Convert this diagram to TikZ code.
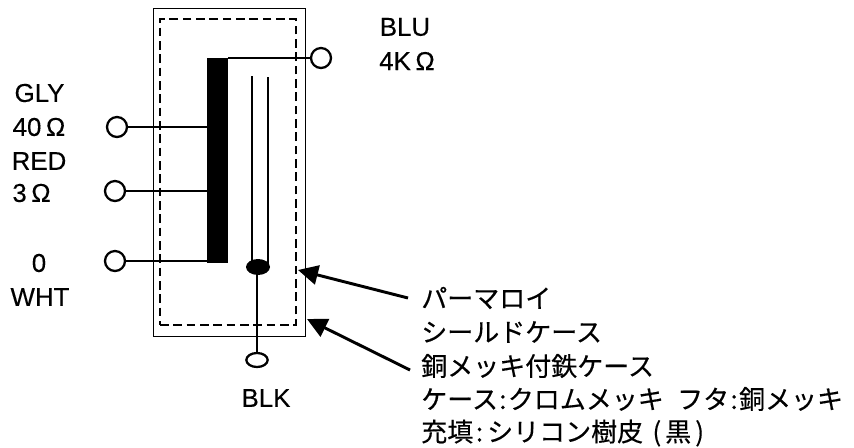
\documentclass[tikz,border=0pt]{standalone}
\usepackage{fontspec}
\setmainfont{Liberation Sans}[FakeBold=0.25]
\newfontfamily\jp{Noto Sans CJK JP}[FakeBold=0.35]
\usetikzlibrary{arrows.meta,shapes.geometric}
\tikzset{
  term/.style={draw,circle,line width=1.7bp,minimum size=15bp,inner sep=0pt,fill=white},
  lat/.style={inner sep=0pt,font=\fontsize{19.4bp}{19.4bp}\selectfont},
  jpt/.style={inner sep=0pt,anchor=west,font=\jp\fontsize{19.5bp}{19.5bp}\selectfont},
  wire/.style={line width=2.2bp},
  ptr/.style={line width=2.2bp,-{Triangle[length=15bp,width=14.5bp]}}
}
\newcommand{\jc}{\hspace{1bp}:\hspace{1bp}}
\begin{document}
\begin{tikzpicture}[x=0.75bp,y=-0.75bp]
\useasboundingbox (0,0) rectangle (854,448);
\node[draw,line width=1.4bp,minimum width=114bp,minimum height=246bp,inner sep=0pt] (outer) at (229.5,172.5) {};
\node[draw,dash pattern=on 6.5bp off 3.5bp,line width=2.2bp,minimum width=102bp,minimum height=229.5bp,inner sep=0pt] (shield) at (228,172) {};
\node[fill=black,minimum width=15.75bp,minimum height=153.75bp,inner sep=0pt] (core) at (217.5,160.5) {};
\node[fill=black,ellipse,minimum width=18bp,minimum height=12bp,inner sep=0pt] (blob) at (258,267) {};
\coordinate (la) at (252,76);
\coordinate (lb) at (268,77);
\coordinate (la2) at (252,264);
\coordinate (lb2) at (268,264);
\draw[wire] (la) -- (la2);
\draw[wire] (lb) -- (lb2);
\node[term] (tblu) at (321,58) {};
\node[term] (tgly) at (117,127) {};
\node[term] (tred) at (115,191) {};
\node[term] (twht) at (115,261) {};
\node[draw,ellipse,line width=1.7bp,minimum width=16bp,minimum height=10.5bp,inner sep=0pt] (tblk) at (257,360) {};
\draw[wire] (tblu) -- (tblu -| core.east);
\draw[wire] (tgly) -- (tgly -| core.west);
\draw[wire] (tred) -- (tred -| core.west);
\draw[wire] (twht) -- (twht -| core.west);
\draw[wire] (blob.center -| tblk) -- (tblk);
\node[lat] (l1) at (39.5,93) {GLY};
\node[lat] (l2) at (39,127) {40$\,$Ω};
\node[lat] (l3) at (39,161) {RED};
\node[lat] (l4) at (31.5,193) {3$\,$Ω};
\node[lat] (l5) at (39,263) {0};
\node[lat] (l6) at (40,297) {WHT};
\node[lat] (l7) at (405,27) {BLU};
\node[lat] (l8) at (407,61) {4K$\,$Ω};
\node[lat] (l9) at (266,398) {BLK};
\node[jpt] (j1) at (421,298) {パーマロイ};
\node[jpt] (j2) at (421,332) {シールドケース};
\node[jpt] (j3) at (421,366) {銅メッキ付鉄ケース};
\node[jpt] (j4) at (421,399) {ケース\jc クロムメッキ\hspace{10bp}フタ\jc 銅メッキ};
\node[jpt] (j5) at (421,433) {充填\hspace{2bp}:\hspace{3bp}シリコン樹皮\hspace{7bp}(\hspace{3bp}黒\hspace{3bp})};
\coordinate (a1) at (408,298);
\coordinate (a2) at (298,270);
\coordinate (b1) at (410,370);
\coordinate (b2) at (307,319);
\draw[ptr] (a1) -- (a2);
\draw[ptr] (b1) -- (b2);
\end{tikzpicture}
\end{document}
